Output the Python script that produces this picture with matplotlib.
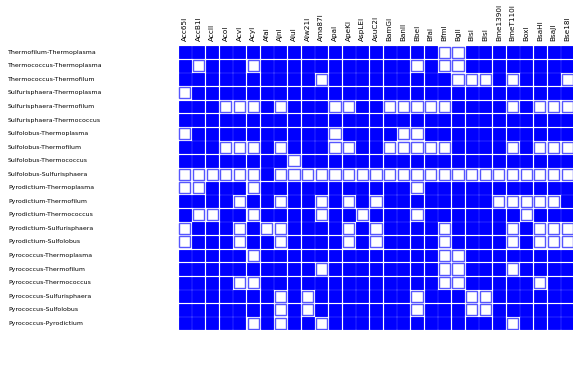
import numpy as np
import matplotlib
matplotlib.use("Agg")
import matplotlib.pyplot as plt
from matplotlib.patches import Rectangle
from matplotlib.transforms import blended_transform_factory

enzymes = ["Acc65I", "AccB1I", "AccII", "AcoI", "AcvI", "AcyI", "AfaI", "AjnI",
           "AluI", "Alw21I", "Ama87I", "ApaI", "ApeKI", "AspLEI", "AsuC2I",
           "BamGI", "BanII", "BbeI", "BfaI", "BfmI", "BglI", "BisI", "BlsI",
           "Bme1390I", "BmeT110I", "BoxI", "BsaHI", "BsaJI", "Bse18I"]

pairs = ["Thermofilum-Thermoplasma", "Thermococcus-Thermoplasma",
         "Thermococcus-Thermofilum", "Sulfurisphaera-Thermoplasma",
         "Sulfurisphaera-Thermofilum", "Sulfurisphaera-Thermococcus",
         "Sulfolobus-Thermoplasma", "Sulfolobus-Thermofilum",
         "Sulfolobus-Thermococcus", "Sulfolobus-Sulfurisphaera",
         "Pyrodictium-Thermoplasma", "Pyrodictium-Thermofilum",
         "Pyrodictium-Thermococcus", "Pyrodictium-Sulfurisphaera",
         "Pyrodictium-Sulfolobus", "Pyrococcus-Thermoplasma",
         "Pyrococcus-Thermofilum", "Pyrococcus-Thermococcus",
         "Pyrococcus-Sulfurisphaera", "Pyrococcus-Sulfolobus",
         "Pyrococcus-Pyrodictium"]

# 1 = shared (blue), 0 = not shared (white)
shared = [
    "11111111111111111110011111111",
    "10111011111111111010011111111",
    "11111111110111111111000101110",
    "01111111111111111111111111111",
    "11100010111001100000111101000",
    "11111111111111111111111111111",
    "01111111111011110011111111111",
    "11100010111001100000111101000",
    "11111111011111111111111111111",
    "00000010000000000000000000000",
    "00111011111111111011111111111",
    "11110110110101011111111000001",
    "10011011110110111011111110111",
    "01110100111101011110111101000",
    "01110110111101011110111101000",
    "11111011111111111110011111111",
    "11111111110111111110011101111",
    "11110011111111111110011111011",
    "11111110101111111011100111111",
    "11111110101111111011100111111",
    "11111010110111111111111101111",
]

W, H, DPI = 573, 374, 100
fig = plt.figure(figsize=(W / DPI, H / DPI), dpi=DPI)
x0, x1, y0, y1 = 178, 574, 45.5, 330
ax = fig.add_axes([x0 / W, 1 - y1 / H, (x1 - x0) / W, (y1 - y0) / H])
ax.set_xlim(0, len(enzymes))
ax.set_ylim(len(pairs), 0)
ax.axis("off")

m = np.array([[int(ch) for ch in row] for row in shared])
pad = 0.06
for r in range(m.shape[0]):
    for c in range(m.shape[1]):
        if m[r, c]:
            ax.add_patch(Rectangle((c + pad, r + pad), 1 - 2 * pad, 1 - 2 * pad,
                                   facecolor="#0000ff", edgecolor="#0000ff", lw=0.6))
        else:
            ax.add_patch(Rectangle((c + pad + 0.03, r + pad + 0.03), 1 - 2 * pad - 0.06,
                                   1 - 2 * pad - 0.06, facecolor="white",
                                   edgecolor="#5555ff", lw=1.0))

tr = blended_transform_factory(fig.transFigure, ax.transData)
for r, name in enumerate(pairs):
    ax.text(8 / W, r + 0.5, name, transform=tr, ha="left", va="center",
            family="DejaVu Sans", fontsize=4.5, color="black")

for c, name in enumerate(enzymes):
    ax.text(c + 0.5, -0.35, name, rotation=90, ha="center", va="bottom",
            clip_on=False, family="DejaVu Sans", fontsize=5.2, color="black")

fig.savefig("out.png", dpi=DPI)
